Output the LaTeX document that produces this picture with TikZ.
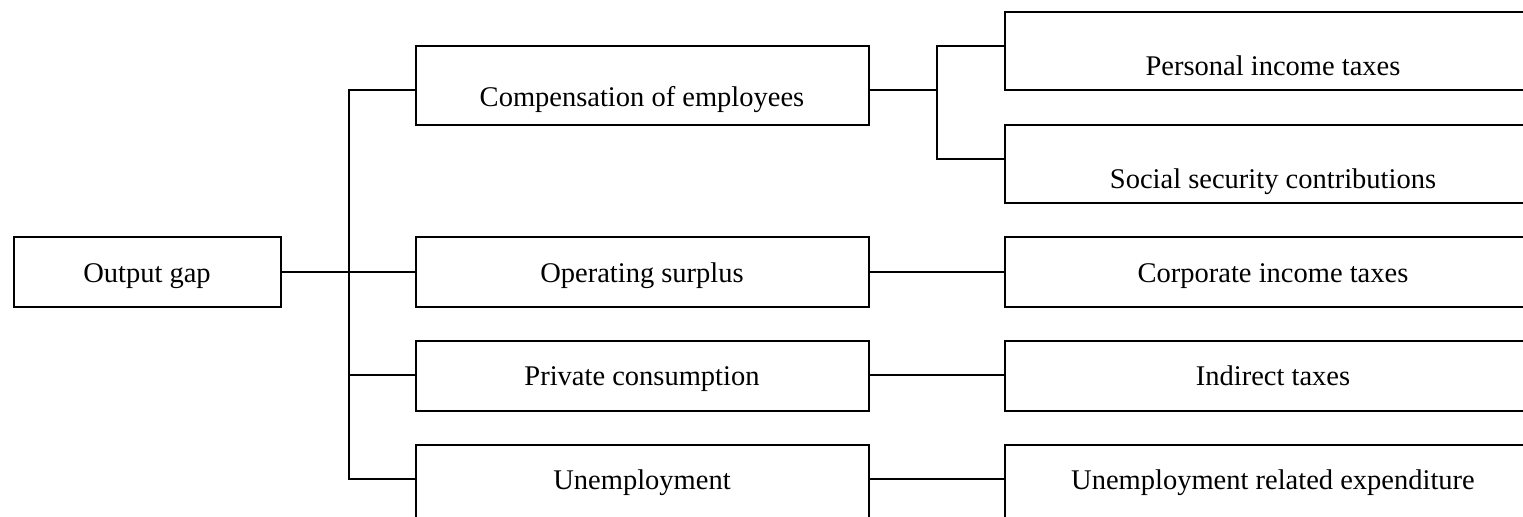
\documentclass[tikz,border=0pt]{standalone}
\usepackage{fontspec}
\setmainfont{Liberation Serif}
\begin{document}
\begin{tikzpicture}[x=0.5pt,y=-0.5pt,line width=0.8pt,
  box/.style={draw,rectangle,anchor=north west,inner sep=0pt,outer sep=0pt,minimum height=#1},
  box/.default=35pt,
  midbox/.style={box=#1,minimum width=226.5pt},
  midbox/.default=35pt,
  farbox/.style={box=#1,minimum width=277.5pt},
  farbox/.default=35pt,
  txt/.style={anchor=base,inner sep=0pt,font=\fontsize{14.25pt}{17pt}\selectfont}]
\useasboundingbox (0,0) rectangle (1523,516);
\clip (0,0) rectangle (1523,516);

% root
\node[box,minimum width=133.5pt] (gap) at (14,237) {};
% first level
\node[midbox=39.5pt] (comp) at (416,46) {};
\node[midbox] (oper) at (416,237) {};
\node[midbox] (priv) at (416,341) {};
\node[midbox=39.5pt] (unem) at (416,445) {};
% second level
\node[farbox=39pt] (pers) at (1005,12) {};
\node[farbox=39pt] (soc) at (1005,125) {};
\node[farbox] (corp) at (1005,237) {};
\node[farbox] (indi) at (1005,341) {};
\node[farbox=39.5pt] (ure) at (1005,445) {};

% labels
\node[txt] (tgap) at (147,282) {Output gap};
\node[txt] (tcomp) at (642,106) {Compensation of employees};
\node[txt] (toper) at (642,282) {Operating surplus};
\node[txt] (tpriv) at (642,385) {Private consumption};
\node[txt] (tunem) at (642,489) {Unemployment};
\node[txt] (tpers) at (1273,75) {Personal income taxes};
\node[txt] (tsoc) at (1273,188) {Social security contributions};
\node[txt] (tcorp) at (1273,282) {Corporate income taxes};
\node[txt] (tindi) at (1273,385) {Indirect taxes};
\node[txt] (ture) at (1273,489) {Unemployment related expenditure};

% junction points
\coordinate (jc) at (349,90);
\coordinate (ju) at (349,479);
\coordinate (jp) at (937,46);
\coordinate (jq) at (937,159);

% connectors
\draw (gap.east) -- (oper.west);
\draw (comp.west |- jc) -- (jc) -- (ju) -- (unem.west |- ju);
\draw (priv.west |- 0,375) -- (jc |- 0,375);
\draw (comp.east |- jc) -- (jc -| jp);
\draw (pers.west |- jp) -- (jp) -- (jq) -- (soc.west |- jq);
\draw (oper.east) -- (corp.west);
\draw (priv.east |- 0,375) -- (indi.west |- 0,375);
\draw (unem.east |- ju) -- (ure.west |- ju);
\end{tikzpicture}
\end{document}
